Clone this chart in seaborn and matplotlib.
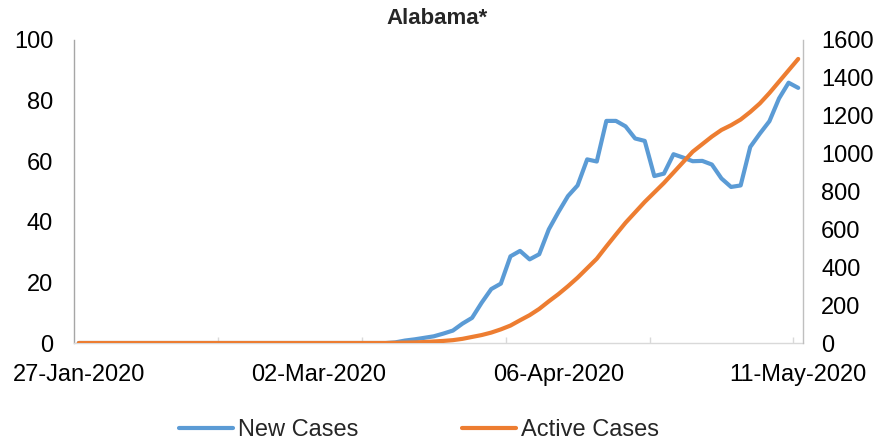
import numpy as np
import pandas as pd
import matplotlib
matplotlib.use("Agg")
import matplotlib.pyplot as plt
from matplotlib.lines import Line2D
import seaborn as sns

# ---- data (weekday categories, 27-Jan-2020 .. 11-May-2020) ----
dates = pd.bdate_range("2020-01-27", "2020-05-11")
tick_labels = ["27-Jan-2020", "02-Mar-2020", "06-Apr-2020", "11-May-2020"]

new_cases = [0, 0, 0, 0, 0, 0, 0, 0, 0, 0,
             0, 0, 0, 0, 0, 0, 0, 0, 0, 0,
             0, 0, 0, 0, 0, 0, 0, 0, 0, 0,
             0, 0, 0, 0.2, 0.8, 1.2, 1.7, 2.2, 3.1, 4.1,
             6.4, 8.3, 13.3, 17.8, 19.6, 28.6, 30.4, 27.6, 29.3, 37.5,
             43.2, 48.5, 52.0, 60.6, 59.9, 73.3, 73.3, 71.5, 67.5, 66.7,
             55.1, 55.9, 62.3, 61.2, 60.0, 60.1, 58.9, 54.3, 51.5, 52.0,
             64.7, 69.1, 73.2, 80.7, 85.9, 84.2]

active_cases = [0, 0, 0, 0, 0, 0, 0, 0, 0, 0,
                0, 0, 0, 0, 0, 0, 0, 0, 0, 0,
                0, 0, 0, 0, 0, 0, 0, 0, 0, 0,
                0, 0, 0, 1, 2, 3, 5, 8, 11, 15,
                22, 32, 42, 55, 72, 92, 120, 147, 180, 220,
                258, 300, 345, 395, 445, 510, 573, 635, 690, 745,
                795, 845, 900, 955, 1010, 1050, 1090, 1125, 1150, 1180,
                1220, 1265, 1320, 1380, 1440, 1500]

df = pd.DataFrame({"pos": np.arange(len(dates)),
                   "New Cases": new_cases,
                   "Active Cases": active_cases})

BLUE = "#5B9BD5"
ORANGE = "#ED7D31"

sns.set_theme(style="white")
plt.rcParams["font.family"] = ["Liberation Sans", "DejaVu Sans"]

W, H = 879, 444
fig = plt.figure(figsize=(W / 100, H / 100), dpi=100)
L, R, T, B = 74, 803, 40, 343
ax = fig.add_axes([L / W, 1 - B / H, (R - L) / W, (B - T) / H])
ax2 = ax.twinx()

sns.lineplot(data=df, x="pos", y="New Cases", ax=ax, color=BLUE,
             linewidth=3.0, legend=False, solid_capstyle="round",
             solid_joinstyle="round")
sns.lineplot(data=df, x="pos", y="Active Cases", ax=ax2, color=ORANGE,
             linewidth=3.0, legend=False, solid_capstyle="round",
             solid_joinstyle="round")

n = len(dates)
ax.set_xlim(-0.5, n - 0.5)
ax.set_ylim(0, 100)
ax2.set_ylim(0, 1600)

FS = 17
ax.set_xticks([0, 25, 50, 75])
ax.set_xticklabels(tick_labels)
ax.set_xticks([14.5, 29.5, 44.5, 59.5, 74.5], minor=True)
ax.tick_params(axis="x", which="major", length=0, pad=15, labelsize=FS,
               colors="black")
ax.tick_params(axis="x", which="minor", direction="in", length=4.5,
               width=1.0, color="#D9D9D9", bottom=True)
ax.set_yticks(np.arange(0, 101, 20))
ax.tick_params(axis="y", length=0, pad=15, labelsize=FS, colors="black")
ax2.set_yticks(np.arange(0, 1601, 200))
ax2.tick_params(axis="y", length=0, pad=13, labelsize=FS, colors="black")

ax.set_xlabel("")
ax.set_ylabel("")
ax2.set_ylabel("")
ax.grid(False)
ax2.grid(False)

for a in (ax, ax2):
    a.spines["top"].set_visible(False)
    a.spines["left"].set_color("#A6A6A6")
    a.spines["right"].set_color("#BFBFBF")
    a.spines["bottom"].set_color("#D9D9D9")
    for s in a.spines.values():
        s.set_linewidth(1.0)
ax2.spines["bottom"].set_visible(False)
ax2.spines["left"].set_visible(False)
ax.spines["right"].set_visible(False)

fig.text(437 / W, 1 - 19 / H, "Alabama*", ha="center", va="center",
         fontsize=16, fontweight="bold")

handles = [Line2D([], [], color=BLUE, linewidth=3.0),
           Line2D([], [], color=ORANGE, linewidth=3.0)]
fig.legend(handles, ["New Cases", "Active Cases"], loc="center",
           bbox_to_anchor=(419 / W, 1 - 430 / H), ncol=2, frameon=False,
           fontsize=FS, handlelength=2.3, handletextpad=0.2,
           columnspacing=4.4)

fig.savefig("out.png", dpi=100)
